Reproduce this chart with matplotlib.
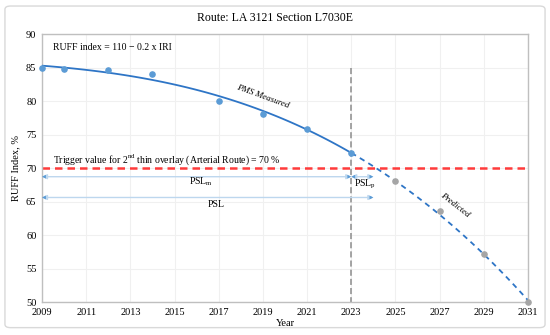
import numpy as np
import matplotlib
matplotlib.use('Agg')
import matplotlib.pyplot as plt
from matplotlib.patches import FancyBboxPatch

# measured (PMS) and predicted RUFF index values
meas_years = [2009, 2010, 2012, 2014, 2017, 2019, 2021, 2023]
meas_ruff = [85.0, 84.8, 84.7, 84.0, 80.0, 78.0, 75.8, 72.2]
pred_years = [2025, 2027, 2029, 2031]
pred_ruff = [68.1, 63.6, 57.1, 50.0]

trigger = 70
year_now = 2023
year_psl = 2024
x_ticks = list(range(2009, 2032, 2))
y_ticks = list(range(50, 91, 5))

plt.rcParams['font.family'] = ['Liberation Serif', 'DejaVu Serif']

fig = plt.figure(figsize=(5.5, 3.35), dpi=100)
frame = FancyBboxPatch((0.009, 0.022), 0.982, 0.96, boxstyle='round,pad=0,rounding_size=0.01',
                       transform=fig.transFigure, fc='white', ec='#d9d9d9', lw=1, zorder=-5)
fig.add_artist(frame)
ax = fig.add_axes([0.0764, 0.0985, 0.8836, 0.80])
ax.patch.set_alpha(0)

# polynomial trend line through all points
all_x = np.array(meas_years + pred_years, dtype=float)
all_y = np.array(meas_ruff + pred_ruff)
coef = np.polyfit(all_x - 2009, all_y, 3)
xs1 = np.linspace(2009, year_now, 100)
xs2 = np.linspace(year_now, 2031, 100)
ax.plot(xs1, np.polyval(coef, xs1 - 2009), color='#2E75C6', lw=1.3, zorder=3)
ax.plot(xs2, np.polyval(coef, xs2 - 2009), color='#2E75C6', lw=1.3, ls=(0, (3, 2.5)), zorder=3)

ax.scatter(meas_years, meas_ruff, s=14, color='#5B9BD5', zorder=4, clip_on=False)
ax.scatter(pred_years, pred_ruff, s=14, color='#A5A5A5', zorder=4, clip_on=False)

ax.axhline(trigger, color='#FF3B3B', lw=1.8, ls=(0, (3, 2)), zorder=2)
ax.plot([year_now, year_now], [85, 50], color='#8c8c8c', lw=1.1, ls=(0, (4, 2)), zorder=2)

# service life arrows
arw = dict(arrowstyle='<|-|>', color='#BDD7EE', lw=1, mutation_scale=7, shrinkA=0, shrinkB=0)
def dim(x0, x1, y):
    ax.annotate('', xy=(x0, y), xytext=(x1, y), arrowprops=arw, zorder=3)
    for xx, d in ((x0, 1), (x1, -1)):
        ax.annotate('', xy=(xx, y), xytext=(xx + d * 0.35, y),
                    arrowprops=dict(arrowstyle='-|>', color='#5B9BD5', lw=0, mutation_scale=7,
                                    shrinkA=0, shrinkB=0), zorder=4)
dim(2009, year_now, 68.7)
dim(year_now, year_psl, 68.7)
dim(2009, year_psl, 65.6)

ax.text(2016.2, 67.9, 'PSL$_\\mathregular{m}$', fontsize=7, ha='center', va='center')
ax.text(2023.6, 67.6, 'PSL$_\\mathregular{p}$', fontsize=7, ha='center', va='center')
ax.text(2016.9, 64.6, 'PSL', fontsize=7, ha='center', va='center')

ax.text(2009.5, 88.0, 'RUFF index = 110 \u2212 0.2 x IRI', fontsize=7, va='center')
ax.text(2009.5, 71.2, 'Trigger value for 2$^\\mathregular{nd}$ thin overlay (Arterial Route) = 70 %',
        fontsize=7, va='center')
ax.text(2019.0, 80.6, 'PMS Measured', fontsize=6.5, style='italic', rotation=-20,
        ha='center', va='center')
ax.text(2027.7, 64.4, 'Predicted', fontsize=6.5, style='italic', rotation=-38,
        ha='center', va='center')

ax.set_xlim(2009, 2031)
ax.set_ylim(50, 90)
ax.set_xticks(x_ticks)
ax.set_yticks(y_ticks)
ax.tick_params(labelsize=7.5, length=0, pad=4)
ax.grid(True, color='#f0f0f0', lw=0.8)
ax.set_axisbelow(True)
for s in ax.spines.values():
    s.set_color('#bfbfbf')
    s.set_linewidth(1)

ax.set_xlabel('Year', fontsize=7.5, labelpad=2)
ax.set_ylabel('RUFF Index, %', fontsize=7.5, labelpad=4)
fig.text(0.5, 0.945, 'Route: LA 3121 Section L7030E', fontsize=8.5, ha='center', va='center')

fig.savefig('out.png', dpi=100)
